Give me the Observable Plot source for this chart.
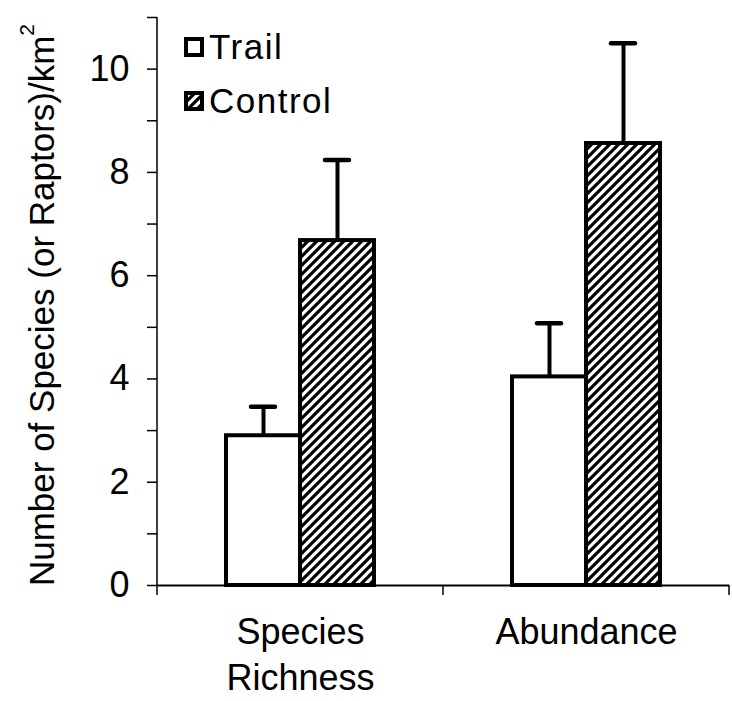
<!DOCTYPE html>
<html>
<head>
<meta charset="utf-8">
<script src="https://cdn.jsdelivr.net/npm/d3@7"></script>
<script src="https://cdn.jsdelivr.net/npm/@observablehq/plot@0.6"></script>
<style>
  body { margin: 0; background: #fff; }
  #chart { position: relative; width: 732px; height: 701px; }
</style>
</head>
<body>
<div id="chart"></div>
<script>
// ---- data ----
const categories = ["Species Richness", "Abundance"];
const categoryLabels = ["Species\nRichness", "Abundance"];
const series = ["Trail", "Control"];
const trailMeans = [2.90, 4.04];
const trailErrors = [0.56, 1.04];
const controlMeans = [6.68, 8.56];
const controlErrors = [1.56, 1.94];
const yTicks = [0, 1, 2, 3, 4, 5, 6, 7, 8, 9, 10, 11];
const yTickLabels = ["0", "", "2", "", "4", "", "6", "", "8", "", "10", ""];
const yTitle = "Number of Species (or Raptors)/km";
const yTitleSup = "2";

// ---- build rows ----
const trailRows = categories.map((c, i) => ({category: c, series: "Trail", value: trailMeans[i], upper: trailMeans[i] + trailErrors[i]}));
const controlRows = categories.map((c, i) => ({category: c, series: "Control", value: controlMeans[i], upper: controlMeans[i] + controlErrors[i]}));
const rows = trailRows.concat(controlRows);
const labelRows = categories.map((c, i) => ({category: c, label: categoryLabels[i]}));

const FONT = "'Liberation Sans', Arial, Helvetica, sans-serif";

const plot = Plot.plot({
  width: 732,
  height: 701,
  marginLeft: 157,
  marginRight: 3,
  marginTop: 17,
  marginBottom: 116,
  style: {fontFamily: FONT, background: "#fff", color: "#000", overflow: "visible"},
  fx: {domain: categories, padding: 0, axis: null},
  x: {domain: series, paddingInner: 0, paddingOuter: 0.907, axis: null},
  y: {domain: [0, 11], axis: null},
  marks: [
    Plot.axisY({
      ticks: yTicks,
      tickFormat: (d) => yTickLabels[yTicks.indexOf(d)],
      tickSize: 10,
      tickPadding: 18,
      fontSize: 36,
      strokeWidth: 1.5,
      label: null
    }),
    Plot.ruleY([0], {stroke: "#000", strokeWidth: 2}),
    Plot.barY(trailRows, {fx: "category", x: "series", y: "value", fill: "white", stroke: "#000", strokeWidth: 4}),
    Plot.barY(controlRows, {fx: "category", x: "series", y: "value", fill: "url(#hatch)", stroke: "#000", strokeWidth: 4}),
    Plot.ruleX(rows, {fx: "category", x: "series", y1: "value", y2: "upper", stroke: "#000", strokeWidth: 4}),
    Plot.tickY(rows, {fx: "category", x: "series", y: "upper", stroke: "#000", strokeWidth: 4.5, strokeLinecap: "round", insetLeft: 25, insetRight: 25}),
    Plot.text(labelRows, {fx: "category", text: "label", frameAnchor: "bottom", lineAnchor: "top", dy: 26, fontSize: 36, lineHeight: 1.28, fill: "#000"})
  ]
});

document.getElementById("chart").appendChild(plot);

// ---- post-processing: pattern, axis lines, legend, title ----
const svg = d3.select(plot);
const defs = svg.insert("defs", ":first-child");
const pat = defs.append("pattern")
  .attr("id", "hatch")
  .attr("patternUnits", "userSpaceOnUse")
  .attr("width", 9)
  .attr("height", 9);
pat.append("rect").attr("width", 9).attr("height", 9).attr("fill", "#fff");
pat.append("path")
  .attr("d", "M-1,10 L10,-1 M-3,3 L3,-3 M6,12 L12,6")
  .attr("stroke", "#000")
  .attr("stroke-width", 3.2);

const yS = plot.scale("y");
const fxS = plot.scale("fx");
const x0 = 157;

// y-axis line
svg.append("line")
  .attr("x1", x0).attr("x2", x0)
  .attr("y1", yS.apply(0) + 1).attr("y2", yS.apply(11))
  .attr("stroke", "#000").attr("stroke-width", 1.5);

// x-axis boundary ticks
const bounds = categories.map((c) => fxS.apply(c)).concat([fxS.apply(categories[categories.length - 1]) + fxS.bandwidth]);
svg.append("g").selectAll("line").data(bounds).join("line")
  .attr("x1", (d) => d).attr("x2", (d) => d)
  .attr("y1", yS.apply(0)).attr("y2", yS.apply(0) + 10)
  .attr("stroke", "#000").attr("stroke-width", 1.5);

// legend
const lg = svg.append("g")
  .attr("font-family", FONT)
  .attr("font-size", 35)
  .attr("letter-spacing", "1.5px")
  .attr("text-anchor", "start");
const legendItems = [{name: series[0], fill: "#fff", y: 39}, {name: series[1], fill: "url(#hatch)", y: 93}];
legendItems.forEach((it) => {
  lg.append("rect").attr("x", 186).attr("y", it.y).attr("width", 16).attr("height", 16)
    .attr("fill", it.fill).attr("stroke", "#000").attr("stroke-width", 4);
  lg.append("text").attr("x", 209).attr("y", it.y + 20).attr("fill", "#000")
    .attr("text-anchor", "start").text(it.name);
});

// y title
const t = svg.append("text")
  .attr("transform", "translate(54,305) rotate(-90)")
  .attr("text-anchor", "middle")
  .attr("font-family", FONT)
  .attr("font-size", 35)
  .attr("fill", "#000");
t.append("tspan").text(yTitle);
t.append("tspan").attr("font-size", 21).attr("dy", -20).text(yTitleSup);
</script>
</body>
</html>
